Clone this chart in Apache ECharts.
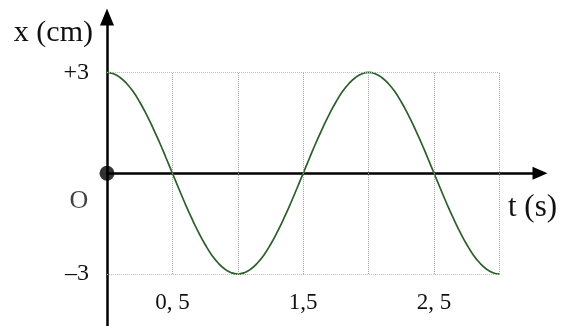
<!DOCTYPE html>
<html><head><meta charset="utf-8">
<script src="https://cdn.jsdelivr.net/npm/echarts@6/dist/echarts.min.js"></script>
<style>html,body{margin:0;padding:0;background:#fff}#c{width:569px;height:326px}</style>
</head><body><div id="c"></div>
<script>
// data: x (cm) versus t (s)
var tValues = [0,0.05,0.1,0.15,0.2,0.25,0.3,0.35,0.4,0.45,0.5,0.55,0.6,0.65,0.7,0.75,0.8,0.85,0.9,0.95,
  1.0,1.05,1.1,1.15,1.2,1.25,1.3,1.35,1.4,1.45,1.5,1.55,1.6,1.65,1.7,1.75,1.8,1.85,1.9,1.95,
  2.0,2.05,2.1,2.15,2.2,2.25,2.3,2.35,2.4,2.45,2.5,2.55,2.6,2.65,2.7,2.75,2.8,2.85,2.9,2.95,3.0];
var xValues = [3,2.96,2.85,2.67,2.43,2.12,1.76,1.36,0.93,0.47,0,-0.47,-0.93,-1.36,-1.76,-2.12,-2.43,-2.67,-2.85,-2.96,
  -3,-2.96,-2.85,-2.67,-2.43,-2.12,-1.76,-1.36,-0.93,-0.47,0,0.47,0.93,1.36,1.76,2.12,2.43,2.67,2.85,2.96,
  3,2.96,2.85,2.67,2.43,2.12,1.76,1.36,0.93,0.47,0,-0.47,-0.93,-1.36,-1.76,-2.12,-2.43,-2.67,-2.85,-2.96,-3];
var xTickValues = [0.5,1.5,2.5];
var xTickLabels = ['0, 5','1,5','2, 5'];
var yTickValues = [-3,3];
var yTickLabels = ['\u20133','+3'];
var gridT = [0.5,1,1.5,2,2.5,3];
var gridX = [-3,3];
var tMax = 3;

var font = 'Liberation Serif';
var curve = tValues.map(function(t,i){return [t,xValues[i]];});
var vLines = gridT.map(function(t){return [{coord:[t,gridX[0]]},{coord:[t,gridX[1]]}];});
var hLines = gridX.map(function(x){return [{coord:[0,x],lineStyle:{color:'#bdbdbd'}},{coord:[tMax,x]}];});

var chart = echarts.init(document.getElementById('c'));
chart.setOption({
  animation:false,
  grid:{left:107,right:29,top:17,bottom:0,containLabel:false,outerBoundsMode:'none'},
  xAxis:{type:'value',min:0,max:3.31,
    axisLine:{onZero:true,lineStyle:{color:'#000',width:2.5},symbol:['none','triangle'],symbolSize:[13,15]},
    axisTick:{show:false},splitLine:{show:false},
    axisLabel:{customValues:xTickValues,margin:-35,fontFamily:font,fontSize:23,color:'#111',
      formatter:function(v){var i=xTickValues.indexOf(v);return i>=0?xTickLabels[i]:'';}},
    name:'t (s)',nameLocation:'end',nameGap:-32,
    nameTextStyle:{fontFamily:font,fontSize:31,color:'#111',align:'left',verticalAlign:'top',padding:[19,0,0,0]}
  },
  yAxis:{type:'value',min:-4.546,max:4.65,
    axisLine:{onZero:true,lineStyle:{color:'#000',width:2.5},symbol:['none','triangle'],symbolSize:[14,17]},
    axisTick:{show:false},splitLine:{show:false},
    axisLabel:{customValues:yTickValues,margin:18,fontFamily:font,fontSize:24,color:'#111',
      formatter:function(v){var i=yTickValues.indexOf(v);return i>=0?yTickLabels[i]:'';}},
    name:'x (cm)',nameLocation:'end',nameGap:-16,
    nameTextStyle:{fontFamily:font,fontSize:30,color:'#111',align:'right',verticalAlign:'middle',padding:[0,14,0,0]}
  },
  series:[
    {type:'line',data:curve,showSymbol:false,smooth:true,z:3,
      lineStyle:{color:'#2c5f2a',width:1.7},
      markLine:{silent:true,symbol:['none','none'],label:{show:false},
        lineStyle:{type:'dotted',color:'#a0a0a0',width:1},
        data:vLines.concat(hLines)}},
    {type:'scatter',data:[[0,0]],symbolSize:15,itemStyle:{color:'#000'},z:5,
      label:{show:true,formatter:'O',position:'inside',offset:[-28,28],fontFamily:font,fontSize:26,color:'#111'}}
  ]
});
</script></body></html>
